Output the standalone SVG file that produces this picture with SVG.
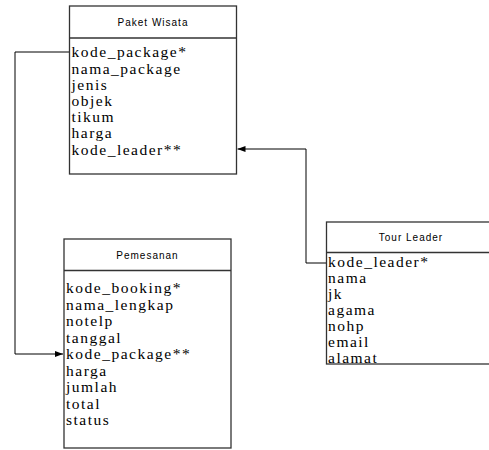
<svg xmlns="http://www.w3.org/2000/svg" width="489" height="450" viewBox="0 0 489 450">
<style>
.box{fill:#fff;stroke:#333;stroke-width:1.3}
.div{stroke:#333;stroke-width:1.3}
.title{font-family:'Liberation Sans',Arial,sans-serif;font-size:10px;letter-spacing:1px;fill:#000;text-anchor:middle}
.field{font-family:'Liberation Serif','DejaVu Serif',serif;font-size:15.5px;letter-spacing:1.5px;fill:#000}
.conn{fill:none;stroke:#000;stroke-width:1}
</style>
<defs>
<marker id="arr" markerWidth="8" markerHeight="6" refX="8" refY="3" orient="auto" markerUnits="userSpaceOnUse">
<path d="M0,0 L8,3 L0,6 Z" fill="#000"/>
</marker>
</defs>
<rect width="489" height="450" fill="#fff"/>
<g id="connectors">
<path class="conn" d="M69,52 H15 V354 H63" marker-end="url(#arr)"/>
<path class="conn" d="M326,263 H306 V149 H237.5" marker-end="url(#arr)"/>
</g>
<g id="paket-wisata">
<rect class="box" x="69.5" y="6" width="167" height="168"/>
<line class="div" x1="69.5" y1="38" x2="236.5" y2="38"/>
<text class="title" x="153" y="25.5">Paket Wisata</text>
<g class="field">
<text x="71.5" y="57.3">kode_package*</text>
<text x="71.5" y="73.5">nama_package</text>
<text x="71.5" y="89.7">jenis</text>
<text x="71.5" y="105.9">objek</text>
<text x="71.5" y="122.1">tikum</text>
<text x="71.5" y="138.3">harga</text>
<text x="71.5" y="154.5">kode_leader**</text>
</g>
</g>
<g id="pemesanan">
<rect class="box" x="64" y="239" width="167" height="209"/>
<line class="div" x1="64" y1="270.5" x2="231" y2="270.5"/>
<text class="title" x="147.5" y="258.5">Pemesanan</text>
<g class="field">
<text x="66" y="293">kode_booking*</text>
<text x="66" y="309.5">nama_lengkap</text>
<text x="66" y="326">notelp</text>
<text x="66" y="342.5">tanggal</text>
<text x="66" y="359">kode_package**</text>
<text x="66" y="375.5">harga</text>
<text x="66" y="392">jumlah</text>
<text x="66" y="408.5">total</text>
<text x="66" y="425">status</text>
</g>
</g>
<g id="tour-leader">
<rect class="box" x="326.5" y="222" width="170" height="142"/>
<line class="div" x1="326.5" y1="252.5" x2="496.5" y2="252.5"/>
<text class="title" x="411" y="241">Tour Leader</text>
<g class="field">
<text x="328" y="267">kode_leader*</text>
<text x="328" y="283">nama</text>
<text x="328" y="299">jk</text>
<text x="328" y="315">agama</text>
<text x="328" y="331">nohp</text>
<text x="328" y="347">email</text>
<text x="328" y="362.5">alamat</text>
</g>
</g>
</svg>
